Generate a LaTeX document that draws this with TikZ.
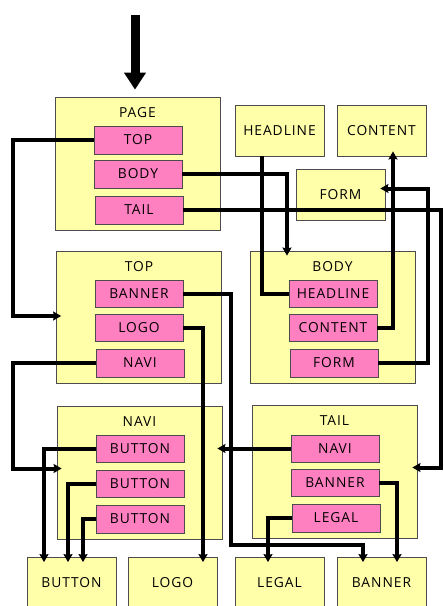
\documentclass[tikz,border=0pt]{standalone}
\usepackage{fontspec}
\setmainfont[LetterSpace=7]{Open Sans}
\usepackage{tikz}
\usetikzlibrary{arrows,arrows.meta}
\usetikzlibrary{shapes,positioning}
\definecolor{paleyellow}{RGB}{255,255,170}
\definecolor{slotpink}{RGB}{255,128,192}
\tikzset{>={Stealth[length=8pt,width=9pt,inset=1pt]},
  frame/.style={draw=black!70,fill=paleyellow,line width=0.8pt,
    minimum width=165pt,minimum height=133pt,inner sep=0pt},
  leaf/.style={draw=black!70,fill=paleyellow,line width=0.8pt,
    minimum width=89pt,minimum height=51pt,inner sep=0pt,font=\fontsize{13.8}{15}\selectfont},
  slot/.style={draw=black!70,fill=slotpink,line width=0.8pt,
    minimum width=88pt,minimum height=28pt,inner sep=0pt,font=\fontsize{13.8}{15}\selectfont},
  title/.style={font=\fontsize{13.8}{15}\selectfont,inner sep=0pt},
  link/.style={line width=4pt,->,shorten >=-5pt}}
\begin{document}
\begin{tikzpicture}[x=1pt,y=-1pt]

  \useasboundingbox (0,0) rectangle (444,606);

  % page
  \node [frame] (page) at (137.5,163.5) {};
  \node [title] (pageT) at (137.5,113) {PAGE};
  \node [slot] (pTop) at (138,140) {TOP};
  \node [slot] (pBody) at (138,174) {BODY};
  \node [slot] (pTail) at (139,210) {TAIL};

  \node [leaf] (headline) at (279.5,130.5) {HEADLINE};
  \node [leaf] (content) at (381.5,130.5) {CONTENT};
  \node [leaf] (form) at (340.5,194.5) {FORM};

  % top
  \node [frame,minimum height=132pt] (top) at (139,317) {};
  \node [title] (topT) at (139,267) {TOP};
  \node [slot,minimum height=27pt] (tBanner) at (139,293.5) {BANNER};
  \node [slot,minimum height=27pt] (tLogo) at (139,327.5) {LOGO};
  \node [slot] (tNavi) at (140,363) {NAVI};

  % body
  \node [frame,minimum height=132pt] (body) at (332.5,317) {};
  \node [title] (bodyT) at (332.5,267) {BODY};
  \node [slot,minimum height=27pt] (bdHead) at (333,293.5) {HEADLINE};
  \node [slot,minimum height=27pt] (bdCont) at (333,327.5) {CONTENT};
  \node [slot] (bdForm) at (334,363) {FORM};

  % navi
  \node [frame] (navi) at (139.5,472.5) {};
  \node [title] (naviT) at (139.5,422) {NAVI};
  \node [slot,minimum height=27pt] (btnA) at (140,448.5) {BUTTON};
  \node [slot,minimum height=27pt] (btnB) at (140,483.5) {BUTTON};
  \node [slot] (btnC) at (140,519) {BUTTON};

  % tail
  \node [frame] (tail) at (334.5,471.5) {};
  \node [title] (tailT) at (334.5,421) {TAIL};
  \node [slot,minimum height=27pt] (tlNavi) at (335,448.5) {NAVI};
  \node [slot,minimum height=27pt] (tlBanner) at (335,482.5) {BANNER};
  \node [slot] (tlLegal) at (336,518) {LEGAL};

  \node [leaf] (bButton) at (71.5,583) {BUTTON};
  \node [leaf] (bLogo) at (172.5,583) {LOGO};
  \node [leaf] (bLegal) at (279.5,583) {LEGAL};
  \node [leaf] (bBanner) at (381.5,583) {BANNER};

  \coordinate (start) at (135,15);
  \draw [line width=9pt,-{Triangle[length=17pt,width=21pt]},shorten >=7pt]
    (start) -- (start |- page.north);

  \draw [link] (pTop.west) -- ++(-81,0) |- ([yshift=1pt]top.west);
  \draw [link] (pBody.east) -| ([xshift=-45.5pt]body.north);
  \draw [link] (pTail.east) -- ++(258,0) |- ([yshift=4pt]tail.east);
  \draw [line width=4pt] ([xshift=-17.5pt]headline.south) |- (bdHead.west);
  \draw [link] (bdCont.east) -| ([xshift=11.5pt]content.south);
  \draw [link] (bdForm.east) -- ++(50,0) |- ([yshift=6pt]form.east);

  \draw [link] (tBanner.east) -- ++(48,0) -- ++(0,251) -| ([xshift=-18.5pt]bBanner.north);
  \draw [link] (tLogo.east) -| ([xshift=30.5pt]bLogo.north);
  \draw [link] (tNavi.west) -- ++(-83,0) |- ([yshift=4pt]navi.west);

  \draw [link] (btnA.west) -| ([xshift=-27.5pt]bButton.north);
  \draw [link] (btnB.west) -| ([xshift=-3.5pt]bButton.north);
  \draw [link] (btnC.west) -| ([xshift=11.5pt]bButton.north);

  \draw [link] (tlNavi.west) -- (navi.east |- tlNavi.west);
  \draw [link] (tlBanner.east) -| ([xshift=15.5pt]bBanner.north);
  \draw [link] (tlLegal.west) -| ([xshift=-11.5pt]bLegal.north);

\end{tikzpicture}
\end{document}
